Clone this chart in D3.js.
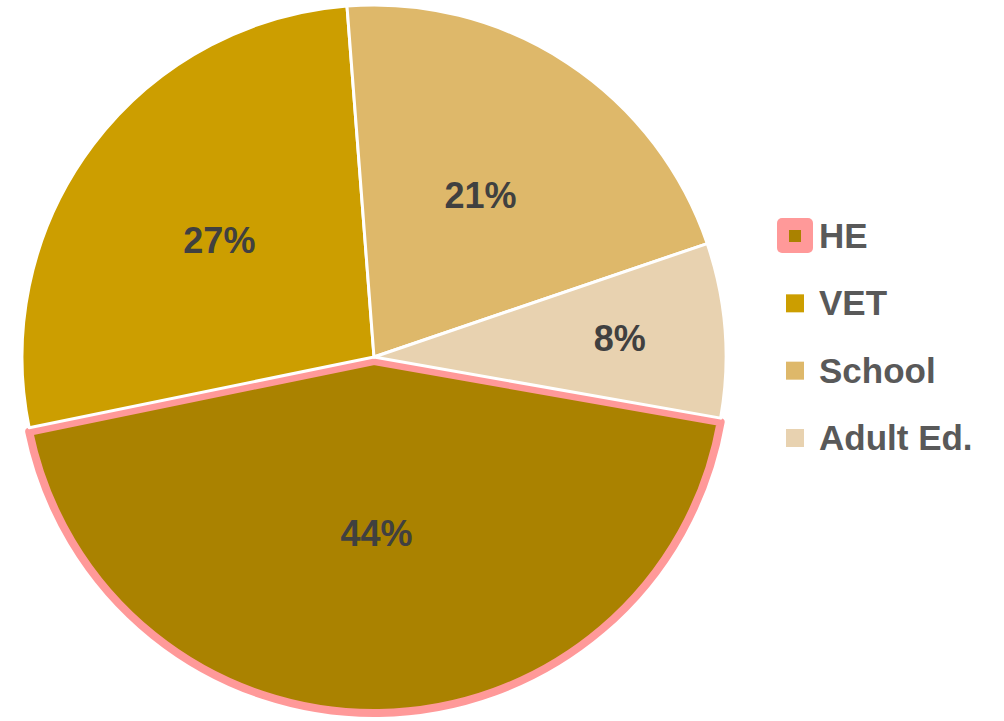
<!DOCTYPE html>
<html><head><meta charset="utf-8">
<script src="https://cdn.jsdelivr.net/npm/d3@7"></script>
<style>html,body{margin:0;padding:0;background:#fff}</style>
</head><body>
<svg id="chart" width="1004" height="721"></svg>
<script>
const categories = ["HE", "VET", "School", "Adult Ed."];
const values = [44, 27, 21, 8];
const colors = ["#AA8200", "#CC9E00", "#DEB86A", "#E8D2B0"];
const highlightColor = "#FF9999";
const firstSliceAngle = 100; // degrees, Excel-style first slice angle

const svg = d3.select("#chart");
const cx = 374, cy = 357, R = 352;
const font = "'Liberation Sans', Arial, sans-serif";

const pie = d3.pie().sort(null).value(d => d)
  .startAngle(firstSliceAngle * Math.PI / 180)
  .endAngle(firstSliceAngle * Math.PI / 180 + 2 * Math.PI);
const arcs = pie(values);
const arc = d3.arc().innerRadius(0).outerRadius(R);
const total = d3.sum(values);

const g = svg.append("g").attr("transform", `translate(${cx},${cy})`);

// highlighted HE slice first (pink outline), then others on top
g.append("path")
  .attr("d", d3.arc().innerRadius(0).outerRadius(R)(arcs[0]))
  .attr("transform", "translate(0,4)")
  .attr("fill", colors[0])
  .attr("stroke", highlightColor)
  .attr("stroke-width", 8)
  .attr("stroke-linejoin", "round");

g.selectAll("path.slice").data(arcs.slice(1)).join("path")
  .attr("class", "slice")
  .attr("d", arc)
  .attr("fill", (d) => colors[d.index])
  .attr("stroke", "#fff")
  .attr("stroke-width", 3)
  .attr("stroke-linejoin", "round");

// labels
g.selectAll("text.lbl").data(arcs).join("text")
  .attr("class", "lbl")
  .attr("transform", d => {
    const frac = (d.endAngle - d.startAngle) / (2 * Math.PI);
    const r = frac < 0.1 ? R * 0.7 : (frac > 0.4 ? R * 0.5 : R * 0.55);
    const c = d3.arc().innerRadius(r).outerRadius(r).centroid(d);
    return `translate(${c[0]},${c[1]})`;
  })
  .attr("text-anchor", "middle")
  .attr("dy", "0.36em")
  .attr("font-family", font)
  .attr("font-weight", "bold")
  .attr("font-size", 36)
  .attr("fill", "#404040")
  .text(d => Math.round(d.data / total * 100) + "%");

// legend
const legY = d3.scalePoint().domain(categories).range([236, 438]);
const leg = svg.append("g");
const items = leg.selectAll("g").data(categories).join("g")
  .attr("transform", d => `translate(0,${legY(d)})`);

items.filter((d, i) => i === 0).append("rect")
  .attr("x", 777).attr("y", -18).attr("width", 36).attr("height", 35)
  .attr("rx", 5).attr("fill", highlightColor);

items.append("rect")
  .attr("x", (d, i) => i === 0 ? 789 : 786)
  .attr("y", (d, i) => i === 0 ? -6 : -9)
  .attr("width", (d, i) => i === 0 ? 12 : 18)
  .attr("height", (d, i) => i === 0 ? 12 : 18)
  .attr("fill", (d, i) => colors[i]);

items.append("text")
  .attr("x", 819)
  .attr("y", 12)
  .attr("font-family", font)
  .attr("font-weight", "bold")
  .attr("font-size", 35)
  .attr("fill", "#595959")
  .text(d => d);
</script>
</body></html>
